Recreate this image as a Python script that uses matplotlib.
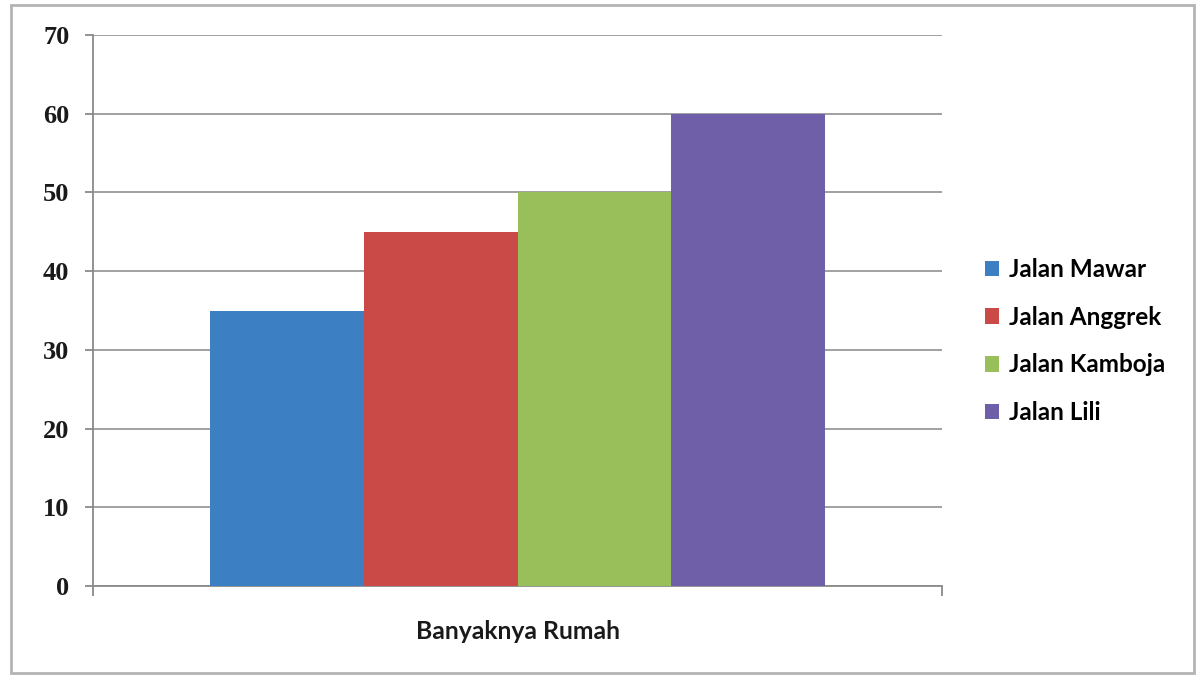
"""Bar chart: Banyaknya Rumah per jalan (Excel-style)."""

import matplotlib
matplotlib.use("Agg")
import matplotlib.pyplot as plt
from matplotlib.patches import Rectangle

CATEGORY = "Banyaknya Rumah"
STREETS = ["Jalan Mawar", "Jalan Anggrek", "Jalan Kamboja", "Jalan Lili"]
HOUSES = [35, 45, 50, 60]
COLORS = ["#3c7fc3", "#c94a46", "#98bf5a", "#6f5fa8"]
Y_TICKS = [0, 10, 20, 30, 40, 50, 60, 70]

GRID = "#9a9a9a"


def main():
    fig = plt.figure(figsize=(12, 6.75), dpi=100)
    fig.patch.set_facecolor("white")

    # thin grey frame around the whole chart area
    fig.add_artist(Rectangle((11 / 1200, 1 - 673 / 675), 1183 / 1200, 668 / 675,
                             transform=fig.transFigure, fill=False,
                             edgecolor="#b4b4b4", linewidth=2))

    ax = fig.add_axes([93 / 1200, 1 - 586 / 675, 849 / 1200, 551 / 675])

    bar_w = 0.1811
    for i, (name, value, color) in enumerate(zip(STREETS, HOUSES, COLORS)):
        ax.bar((i - 1.5) * bar_w, value, width=bar_w, color=color,
               label=name, zorder=3)

    ax.set_xlim(-0.5, 0.5)
    ax.set_ylim(0, 70)
    ax.set_yticks(Y_TICKS)
    ax.set_yticklabels([str(t) for t in Y_TICKS], family="Liberation Serif",
                       fontsize=19, fontweight="bold", color="#1a1a1a")
    ax.yaxis.grid(True, color=GRID, linewidth=1.3, zorder=0)
    ax.set_axisbelow(True)

    ax.set_xticks([-0.5, 0.5])
    ax.set_xticklabels(["", ""])
    ax.tick_params(axis="x", length=7, width=1.3, color="#8a8a8a", direction="out")
    ax.tick_params(axis="y", length=6, width=1.3, color="#8a8a8a",
                   direction="out", pad=11)

    for side in ("top", "right"):
        ax.spines[side].set_visible(False)
    for side in ("left", "bottom"):
        ax.spines[side].set_color("#8a8a8a")
        ax.spines[side].set_linewidth(1.3)

    ax.set_xlabel(CATEGORY, family="Lato", fontsize=17.8,
                  fontweight="bold", color="#1a1a1a", labelpad=14)

    fig.legend(loc="upper left", bbox_to_anchor=(963 / 1200, 1 - 236 / 675),
               frameon=False, handlelength=0.6, handleheight=0.6,
               handletextpad=0.4, labelspacing=1.02,
               prop={"family": "Lato", "size": 17.5, "weight": "bold"})

    fig.savefig("out.png", dpi=100)
    plt.close(fig)


if __name__ == "__main__":
    main()
